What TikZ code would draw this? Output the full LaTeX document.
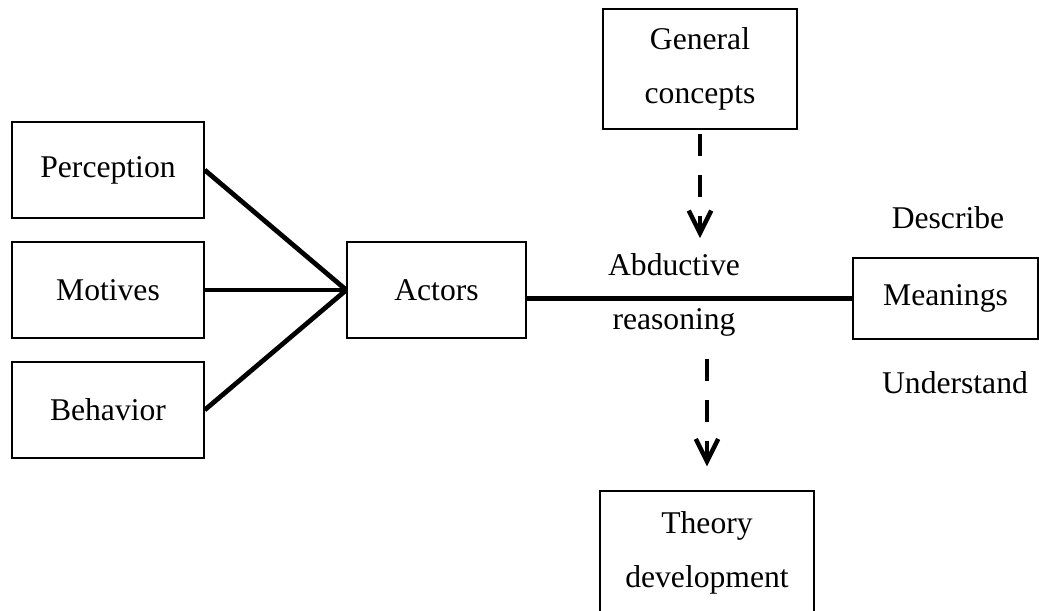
\documentclass[tikz,border=0pt]{standalone}
\usepackage{fontspec}
\setmainfont{Liberation Serif}
\usetikzlibrary{arrows.meta}
\begin{document}
\begin{tikzpicture}[
	font=\fontsize{18}{31}\selectfont,
	box/.style={draw,line width=0.8pt,align=center,inner sep=0pt},
	link/.style={line width=2.7pt},
	dashlink/.style={line width=2.5pt,dash pattern=on 0.44cm off 0.38cm,-{Straight Barb[length=4.5mm,width=4.5mm,line width=2.5pt]}}
	]
	\useasboundingbox (0,0) rectangle (20.78,12.2);
	\begin{scope}
	\clip (0,0) rectangle (20.78,12.2);
	
	\node[box,minimum width=3.84cm,minimum height=1.92cm] at (2.16,8.8) (perc) {Perception};
	\node[box,minimum width=3.84cm,minimum height=1.92cm] at (2.16,6.4) (mot) {Motives};
	\node[box,minimum width=3.84cm,minimum height=1.92cm] at (2.16,4.0) (beh) {Behavior};
	\node[box,minimum width=3.58cm,minimum height=1.92cm] at (8.73,6.4) (act) {Actors};
	\node[box,minimum width=3.7cm,minimum height=1.62cm] at (18.91,6.23) (mean) {Meanings};
	\node[box,minimum width=3.88cm,minimum height=2.4cm] at (14.0,10.82) (gen) {General\\concepts};
	\node[box,minimum width=4.28cm,minimum height=2.48cm] at (14.14,1.14) (theo) {Theory\\development};
	
	\node[align=center,inner sep=0pt] at (13.48,6.3) (abd) {Abductive\\reasoning};
	\node at (18.96,7.84) (desc) {Describe};
	\node at (19.1,4.54) (und) {Understand};
	
	\draw[link] (perc.east) -- (act.west);
	\draw[link] (mot.east) -- (act.west);
	\draw[link] (beh.east) -- (act.west);
	\draw[link] (act.east |- mean.west) -- (mean.west);
	
	\draw[dashlink,shorten <=0.08cm,shorten >=0.3cm] (gen.south) -- (gen.south |- abd.north);
	\draw[dashlink,shorten <=0.45cm,shorten >=0.48cm] (theo.north |- abd.south) -- (theo.north);
	\end{scope}
\end{tikzpicture}
\end{document}
